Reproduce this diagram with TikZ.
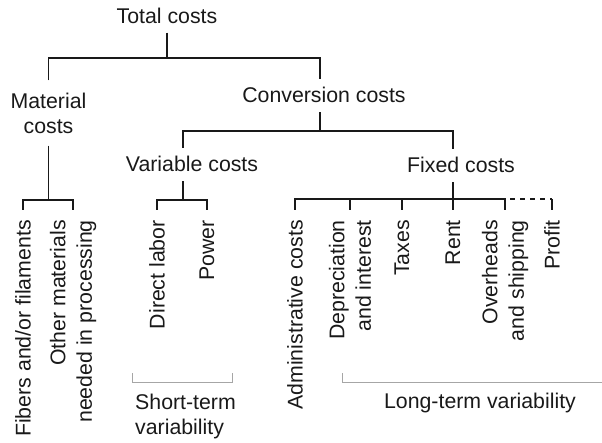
\documentclass[tikz,border=0pt]{standalone}
\usepackage{fontspec}
\setmainfont{Liberation Sans}
\begin{document}
\begin{tikzpicture}[x=1pt,y=-1pt,
  lbl/.style={font=\fontsize{21.3}{25}\selectfont, inner sep=0pt, text=black!90},
  hl/.style={lbl, text height=15pt, text depth=0pt, inner ysep=9pt, inner xsep=0pt},
  vl/.style={lbl, rotate=90, anchor=east, inner xsep=10pt, inner ysep=0pt, align=right, font=\fontsize{21.3}{26.5}\selectfont},
  ln/.style={line width=1.3pt, draw=black!90},
  brk/.style={line width=1pt, draw=black!35}]
\useasboundingbox (0,0) rectangle (602,443);

% horizontal labels
\node[hl, anchor=base] (total) at (167,23.5) {Total costs};
\node[lbl, align=center, inner ysep=12pt] (mat) at (48.5,113) {Material\\costs};
\node[hl, anchor=base] (conv) at (324,103) {Conversion costs};
\node[hl, anchor=base] (var) at (192,172) {Variable costs};
\node[hl, anchor=base] (fixed) at (461,173) {Fixed costs};

% vertical labels
\node[vl] (fib) at (23,210) {Fibers and/or filaments};
\node[vl] (oth) at (73,210) {Other materials\\needed in processing};
\node[vl] (dl) at (157,210) {Direct labor};
\node[vl] (pow) at (207,210) {Power};
\node[vl] (adm) at (295,210) {Administrative costs};
\node[vl] (dep) at (350,210) {Depreciation\\and interest};
\node[vl] (tax) at (402,210) {Taxes};
\node[vl] (rent) at (453,210) {Rent};
\node[vl] (ovh) at (505,210) {Overheads\\and shipping};
\node[vl] (prof) at (552,210) {Profit};

% bar levels
\coordinate (b0) at (167,58);
\coordinate (b1) at (320,131);
\coordinate (bm) at (48.5,200);
\coordinate (bv) at (183,200);
\coordinate (bf) at (453,199);

% connectors
\draw[ln] (total.south) -- (b0);
\draw[ln] (mat.north) |- (b0) -| ([xshift=-4pt]conv.north);
\draw[ln] ([xshift=-4pt]conv.south) -- (b1);
\draw[ln] ([xshift=-9pt]var.north) |- (b1) -| ([xshift=-8pt]fixed.north);
\draw[ln] (mat.south) -- (bm);
\draw[ln] (fib.east) |- (bm) -| (oth.east);
\draw[ln] ([xshift=-9pt]var.south) -- (bv);
\draw[ln] (dl.east) |- (bv) -| (pow.east);
\draw[ln] ([xshift=-8pt]fixed.south) -- (bf);
\draw[ln] (adm.east) |- (bf) -| (ovh.east);
\draw[ln] (dep.east) -- (dep.east |- bf);
\draw[ln] (tax.east) -- (tax.east |- bf);
\draw[ln] (rent.east) -- (bf);
\draw[ln, dash pattern=on 5pt off 5pt, dash phase=5pt] (ovh.east |- bf) -- (prof.east |- bf);
\draw[ln] (prof.east |- bf) -- (prof.east);

% variability brackets
\coordinate (s1) at (132,373);
\coordinate (s2) at (232,373);
\draw[brk] (s1) -- ++(0,9) -| (s2);
\node[lbl, align=left, anchor=west] (st) at (135,416) {Short-term\\variability};
\coordinate (l1) at (342,373);
\coordinate (l2) at (602,382);
\draw[brk] (l1) |- (l2);
\node[lbl, anchor=base] (lt) at (480,408) {Long-term variability};
\end{tikzpicture}
\end{document}
